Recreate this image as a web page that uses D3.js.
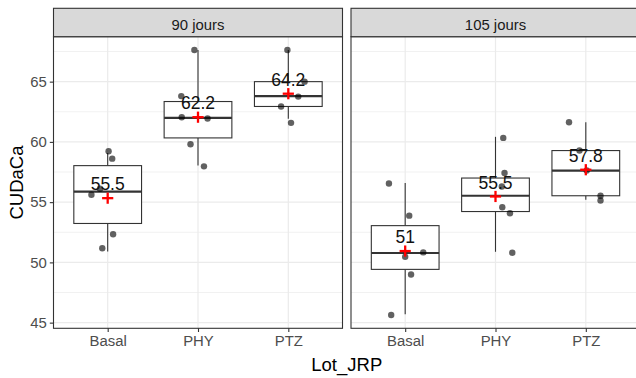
<!DOCTYPE html>
<html>
<head>
<meta charset="utf-8">
<script src="https://cdn.jsdelivr.net/npm/d3@7"></script>
<style>
  html, body { margin: 0; padding: 0; background: #fff; }
  svg { display: block; font-family: "Liberation Sans", Arial, sans-serif; }
</style>
</head>
<body>
<svg id="chart" width="636" height="378"></svg>
<script>
// ---------------- data ----------------
const panels = ["90 jours", "105 jours"];
const lots = ["Basal", "PHY", "PTZ"];
const yTicks = [45, 50, 55, 60, 65];
const yMinor = [47.5, 52.5, 57.5, 62.5, 67.5];

// individual observations per lot (Basal, PHY, PTZ)
const points90 = [
  [59.22, 58.61, 56.11, 55.61, 52.33, 51.17],
  [67.63, 63.80, 62.05, 61.94, 59.80, 57.97],
  [67.63, 65.00, 63.76, 62.94, 61.58]
];
const points105 = [
  [56.55, 53.88, 50.83, 50.47, 49.00, 45.63],
  [60.33, 57.42, 56.30, 54.58, 54.08, 50.80],
  [61.63, 59.28, 57.62, 55.53, 55.14]
];
// horizontal jitter (fraction of a category step)
const jitter90 = [
  [0.01, 0.05, -0.085, -0.18, 0.06, -0.06],
  [-0.04, -0.185, -0.18, 0.106, -0.083, 0.066],
  [-0.01, 0.18, 0.11, -0.08, 0.03]
];
const jitter105 = [
  [-0.18, 0.045, 0.2, 0.0, 0.065, -0.155],
  [0.086, 0.1, 0.07, 0.075, 0.16, 0.186],
  [-0.186, -0.07, 0.01, 0.163, 0.163]
];
// box statistics: [lower whisker, Q1, median, Q3, upper whisker]
const box90 = [
  [50.90, 53.23, 55.88, 58.03, 59.08],
  [58.05, 60.33, 62.00, 63.35, 67.63],
  [61.92, 62.94, 63.80, 65.00, 67.63]
];
const box105 = [
  [45.69, 49.42, 50.78, 53.05, 56.58],
  [50.88, 54.22, 55.53, 57.00, 60.42],
  [55.19, 55.53, 57.61, 59.28, 61.63]
];
const means90 = [55.33, 62.05, 64.00];
const means105 = [50.94, 55.47, 57.69];
const labels90 = ["55.5", "62.2", "64.2"];
const labels105 = ["51", "55.5", "57.8"];

const xTitle = "Lot_JRP";
const yTitle = "CUDaCa";

// ---------------- layout ----------------
const svg = d3.select("#chart");
const panelTop = 36.7, panelBottom = 328.3, stripTop = 8.3;
const panelX = [[53.5, 342.5], [351, 640]];

const allVals = [].concat(...points90, ...points105, ...box90, ...box105);
const lo = d3.min(allVals), hi = d3.max(allVals), pad = (hi - lo) * 0.05;
const y = d3.scaleLinear().domain([lo - pad, hi + pad]).range([panelBottom, panelTop]);

const panelData = [
  {pts: points90, jit: jitter90, box: box90, means: means90, labels: labels90},
  {pts: points105, jit: jitter105, box: box105, means: means105, labels: labels105}
];

const grey20 = "#333333";

panelData.forEach((pd, pi) => {
  const [x0, x1] = panelX[pi];
  const x = d3.scalePoint().domain(lots).range([x0, x1]).padding(0.6);
  const step = x.step();
  const g = svg.append("g");

  // background
  g.append("rect").attr("x", x0).attr("y", panelTop).attr("width", x1 - x0)
    .attr("height", panelBottom - panelTop).attr("fill", "#fff");

  // minor grid
  g.selectAll(".ym").data(yMinor).join("line")
    .attr("x1", x0).attr("x2", x1).attr("y1", d => y(d)).attr("y2", d => y(d))
    .attr("stroke", "#EBEBEB").attr("stroke-width", 0.7);
  // major grid
  g.selectAll(".yM").data(yTicks).join("line")
    .attr("x1", x0).attr("x2", x1).attr("y1", d => y(d)).attr("y2", d => y(d))
    .attr("stroke", "#EBEBEB").attr("stroke-width", 1.2);
  g.selectAll(".xM").data(lots).join("line")
    .attr("x1", d => x(d)).attr("x2", d => x(d)).attr("y1", panelTop).attr("y2", panelBottom)
    .attr("stroke", "#EBEBEB").attr("stroke-width", 1.2);

  const bw = step * 0.75;
  lots.forEach((lot, li) => {
    const cx = x(lot);
    const [wl, q1, md, q3, wh] = pd.box[li];
    // whiskers
    g.append("line").attr("x1", cx).attr("x2", cx).attr("y1", y(wh)).attr("y2", y(q3))
      .attr("stroke", grey20).attr("stroke-width", 1.1);
    g.append("line").attr("x1", cx).attr("x2", cx).attr("y1", y(q1)).attr("y2", y(wl))
      .attr("stroke", grey20).attr("stroke-width", 1.1);
    // box
    g.append("rect").attr("x", cx - bw / 2).attr("y", y(q3)).attr("width", bw)
      .attr("height", y(q1) - y(q3)).attr("fill", "#fff")
      .attr("stroke", grey20).attr("stroke-width", 1.1);
    // median
    g.append("line").attr("x1", cx - bw / 2).attr("x2", cx + bw / 2)
      .attr("y1", y(md)).attr("y2", y(md))
      .attr("stroke", grey20).attr("stroke-width", 2.2);
  });

  // jittered points
  lots.forEach((lot, li) => {
    const cx = x(lot);
    g.selectAll(null).data(pd.pts[li]).join("circle")
      .attr("cx", (d, i) => cx + pd.jit[li][i] * step)
      .attr("cy", d => y(d))
      .attr("r", 3.2)
      .attr("fill", "#000").attr("fill-opacity", 0.62);
  });

  // mean crosses
  lots.forEach((lot, li) => {
    const cx = x(lot), cy = y(pd.means[li]), s = 5.6;
    g.append("line").attr("x1", cx - s).attr("x2", cx + s).attr("y1", cy).attr("y2", cy)
      .attr("stroke", "#FF0000").attr("stroke-width", 2.3);
    g.append("line").attr("x1", cx).attr("x2", cx).attr("y1", cy - s).attr("y2", cy + s)
      .attr("stroke", "#FF0000").attr("stroke-width", 2.3);
  });

  // mean labels
  lots.forEach((lot, li) => {
    g.append("text").attr("x", x(lot)).attr("y", y(pd.means[li]) - 14.2)
      .attr("dy", "0.36em").attr("text-anchor", "middle")
      .attr("font-size", 17.5).attr("fill", "#111")
      .text(pd.labels[li]);
  });

  // panel border
  g.append("rect").attr("x", x0).attr("y", panelTop).attr("width", x1 - x0)
    .attr("height", panelBottom - panelTop).attr("fill", "none")
    .attr("stroke", grey20).attr("stroke-width", 1.1);

  // strip
  g.append("rect").attr("x", x0).attr("y", stripTop).attr("width", x1 - x0)
    .attr("height", panelTop - stripTop).attr("fill", "#D9D9D9")
    .attr("stroke", grey20).attr("stroke-width", 1.1);
  g.append("text").attr("x", (x0 + x1) / 2).attr("y", 30)
    .attr("text-anchor", "middle").attr("font-size", 14.9).attr("fill", "#1A1A1A")
    .text(panels[pi]);

  // x axis
  const xa = g.append("g").attr("transform", `translate(0,${panelBottom})`)
    .call(d3.axisBottom(x).tickSize(3.7).tickPadding(3.5));
  xa.select(".domain").remove();
  xa.selectAll(".tick line").attr("stroke", grey20).attr("stroke-width", 1.1);
  xa.selectAll(".tick text").attr("fill", "#4D4D4D").attr("font-size", 14.9)
    .attr("font-family", "Liberation Sans, Arial, sans-serif");

  // y axis only on first panel
  if (pi === 0) {
    const ya = g.append("g").attr("transform", `translate(${x0},0)`)
      .call(d3.axisLeft(y).tickValues(yTicks).tickSize(3.7).tickPadding(3));
    ya.select(".domain").remove();
    ya.selectAll(".tick line").attr("stroke", grey20).attr("stroke-width", 1.1);
    ya.selectAll(".tick text").attr("fill", "#4D4D4D").attr("font-size", 14.9)
      .attr("font-family", "Liberation Sans, Arial, sans-serif");
  }
});

// axis titles
svg.append("text").attr("x", (panelX[0][0] + panelX[1][1]) / 2).attr("y", 371)
  .attr("text-anchor", "middle").attr("font-size", 18.5).attr("fill", "#000")
  .text(xTitle);
svg.append("text")
  .attr("transform", `translate(23,${(panelTop + panelBottom) / 2}) rotate(-90)`)
  .attr("text-anchor", "middle").attr("font-size", 18.5).attr("fill", "#000")
  .text(yTitle);
</script>
</body>
</html>
